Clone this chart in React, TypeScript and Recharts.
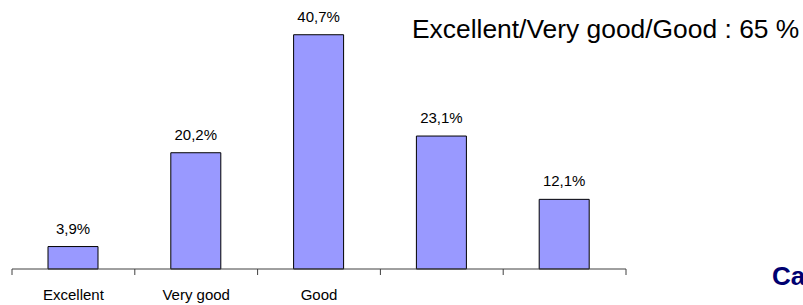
import { BarChart, Bar, XAxis, YAxis, LabelList } from "recharts";

const categories = ["Excellent", "Very good", "Good", "", " "];
const shares = [3.9, 20.2, 40.7, 23.1, 12.1];

const headline = "Excellent/Very good/Good : 65 %";
const cornerText = "Ca";

const WIDTH = 803;
const HEIGHT = 305;
const MARGIN = { top: 10, right: 177, bottom: 6, left: 12 };
const BAND = (WIDTH - MARGIN.left - MARGIN.right) / categories.length;
const FONT = "'Liberation Sans', Arial, sans-serif";

const data = categories.map((name, i) => ({ name, value: shares[i] }));

const formatPct = (v: unknown) => `${Number(v).toFixed(1).replace(".", ",")}%`;

// tick marks sit between categories, not under them
const CategoryTick = (props: any) => {
  const { x, y, payload, index } = props;
  const last = index === categories.length - 1;
  return (
    <g>
      <line x1={x - BAND / 2} x2={x - BAND / 2} y1={y} y2={y + 6} stroke="#404040" />
      {last && (
        <line x1={x + BAND / 2} x2={x + BAND / 2} y1={y} y2={y + 6} stroke="#404040" />
      )}
      <text
        x={x}
        y={y + 31}
        textAnchor="middle"
        fontSize={15}
        fontFamily={FONT}
        fill="#000"
      >
        {payload.value}
      </text>
    </g>
  );
};

export default function App() {
  return (
    <div
      style={{
        position: "absolute",
        left: 0,
        top: 0,
        width: WIDTH,
        height: HEIGHT,
        background: "#fff",
        fontFamily: FONT,
        overflow: "hidden",
      }}
    >
      <BarChart width={WIDTH} height={HEIGHT} data={data} margin={MARGIN}>
        <XAxis
          dataKey="name"
          height={30}
          tickSize={0}
          tickMargin={0}
          tickLine={false}
          axisLine={{ stroke: "#404040" }}
          tick={<CategoryTick />}
          interval={0}
        />
        <YAxis hide domain={[0, 45]} />
        <Bar
          dataKey="value"
          barSize={50}
          fill="#9999FF"
          stroke="#000"
          strokeWidth={1}
          isAnimationActive={false}
        >
          <LabelList
            dataKey="value"
            position="top"
            offset={13}
            formatter={formatPct}
            fontSize={15}
            fontFamily={FONT}
            fill="#000"
          />
        </Bar>
      </BarChart>
      <svg
        width={WIDTH}
        height={HEIGHT}
        style={{ position: "absolute", left: 0, top: 0, pointerEvents: "none" }}
      >
        <text x={412} y={38} fontSize={26.4} fontFamily={FONT} fill="#000">
          {headline}
        </text>
        <text
          x={772}
          y={285}
          fontSize={26}
          fontWeight="bold"
          fontFamily={FONT}
          fill="#000070"
        >
          {cornerText}
        </text>
      </svg>
    </div>
  );
}
